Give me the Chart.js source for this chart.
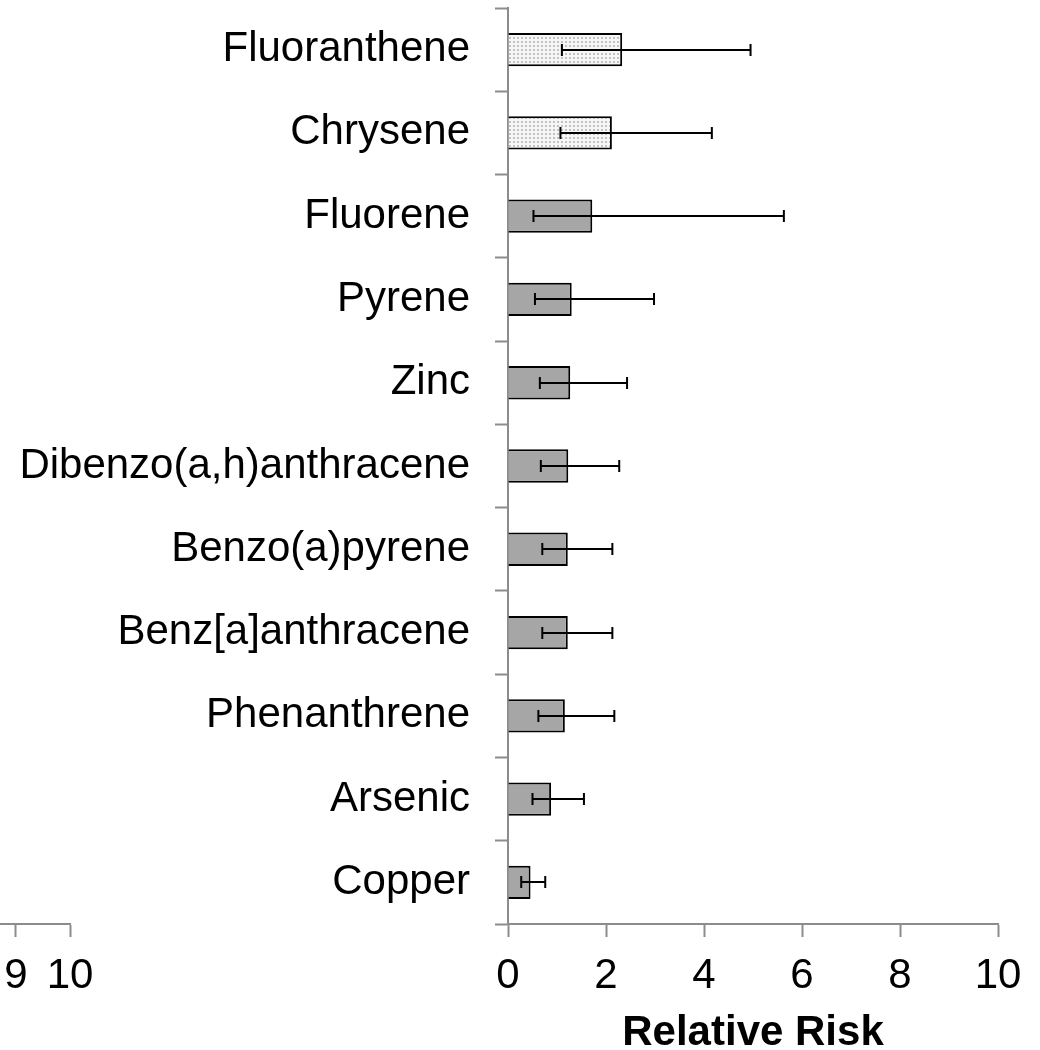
<!DOCTYPE html>
<html>
<head>
<meta charset="utf-8">
<title>Relative Risk</title>
<script src="https://cdn.jsdelivr.net/npm/chart.js@4.4.1/dist/chart.umd.min.js"></script>
<style>
  html, body { margin: 0; padding: 0; background: #fff; }
  #wrap { position: relative; width: 1040px; height: 1050px; }
  #main { position: absolute; left: 0; top: 0; }
  #side { position: absolute; left: 0; top: 880px; }
</style>
</head>
<body>
<div id="wrap">
  <canvas id="main" width="1040" height="1050"></canvas>
  <canvas id="side" width="130" height="170"></canvas>
</div>
<script>
// Contaminants, top to bottom
const categories = [
  'Fluoranthene', 'Chrysene', 'Fluorene', 'Pyrene', 'Zinc',
  'Dibenzo(a,h)anthracene', 'Benzo(a)pyrene', 'Benz[a]anthracene',
  'Phenanthrene', 'Arsenic', 'Copper'
];
// Relative risk estimates with lower / upper confidence limits
const relativeRisk = [2.33, 2.12, 1.72, 1.30, 1.27, 1.23, 1.22, 1.22, 1.16, 0.88, 0.46];
const lowerCI      = [1.10, 1.07, 0.52, 0.55, 0.65, 0.67, 0.70, 0.70, 0.62, 0.50, 0.27];
const upperCI      = [4.95, 4.16, 5.63, 2.98, 2.43, 2.27, 2.13, 2.13, 2.17, 1.55, 0.76];
// Bars drawn with the dotted fill
const dottedRows = ['Fluoranthene', 'Chrysene'];
// Axis ticks
const xTicks = [0, 2, 4, 6, 8, 10];
const sideTicks = [9, 10];

const FONT = '"Liberation Sans", Arial, sans-serif';
const AXIS_GRAY = '#8c8c8c';

// light dotted fill
function dotPattern() {
  const c = document.createElement('canvas');
  c.width = 4; c.height = 4;
  const g = c.getContext('2d');
  g.fillStyle = '#f6f6f6';
  g.fillRect(0, 0, 4, 4);
  g.fillStyle = '#c2c2c2';
  g.fillRect(1, 1, 2, 2);
  return g.createPattern(c, 'repeat');
}
const pattern = dotPattern();
const fills = categories.map(c => dottedRows.includes(c) ? pattern : '#a6a6a6');

// confidence interval whiskers
const errorBars = {
  id: 'errorBars',
  afterDatasetsDraw(chart) {
    const { ctx, scales: { x, y } } = chart;
    ctx.save();
    ctx.strokeStyle = '#000';
    ctx.lineWidth = 2;
    categories.forEach((c, i) => {
      const py = Math.round(y.getPixelForValue(i));
      const x1 = x.getPixelForValue(lowerCI[i]);
      const x2 = x.getPixelForValue(upperCI[i]);
      ctx.beginPath();
      ctx.moveTo(x1, py); ctx.lineTo(x2, py);
      ctx.moveTo(x1, py - 6); ctx.lineTo(x1, py + 6);
      ctx.moveTo(x2, py - 6); ctx.lineTo(x2, py + 6);
      ctx.stroke();
    });
    ctx.restore();
  }
};

function valueAxis(ticks, min, max) {
  return {
    type: 'linear',
    position: 'bottom',
    offset: false,
    min: min,
    max: max,
    afterBuildTicks(scale) { scale.ticks = ticks.map(v => ({ value: v })); },
    afterFit(scale) {
      scale.height = 126;
      scale.paddingLeft = 0;
      scale.paddingRight = 0;
    },
    border: { display: true, color: AXIS_GRAY, width: 2 },
    grid: { offset: false, drawOnChartArea: false, drawTicks: true, tickLength: 13, tickWidth: 2, tickColor: AXIS_GRAY },
    ticks: { color: '#000', font: { family: FONT, size: 42 }, padding: 14, maxRotation: 0, autoSkip: false }
  };
}

const xAxis = valueAxis(xTicks, 0, 10);
xAxis.title = {
  display: true,
  text: 'Relative Risk',
  color: '#000',
  font: { family: FONT, size: 42, weight: 'bold', lineHeight: 0.8 },
  padding: { top: 0, bottom: 0 }
};

new Chart(document.getElementById('main'), {
  type: 'bar',
  data: {
    labels: categories,
    datasets: [{
      data: relativeRisk,
      backgroundColor: fills,
      borderColor: '#000',
      borderWidth: 2,
      barPercentage: 0.4,
      categoryPercentage: 1
    }]
  },
  options: {
    indexAxis: 'y',
    responsive: false,
    animation: false,
    layout: { padding: { top: 8, right: 42, left: 0, bottom: 0 } },
    plugins: { legend: { display: false }, tooltip: { enabled: false } },
    scales: {
      x: xAxis,
      y: {
        type: 'category',
        position: 'left',
        z: 1,
        afterFit(scale) {
          scale.width = 508;
          scale.paddingTop = 0;
          scale.paddingBottom = 0;
        },
        border: { display: true, color: AXIS_GRAY, width: 2 },
        grid: { offset: true, drawOnChartArea: false, drawTicks: true, tickLength: 13, tickWidth: 2, tickColor: AXIS_GRAY },
        ticks: { color: '#000', font: { family: FONT, size: 42 }, padding: 25, autoSkip: false }
      }
    }
  },
  plugins: [errorBars]
});

// neighbouring panel's axis end
new Chart(document.getElementById('side'), {
  type: 'line',
  data: { datasets: [{ data: [] }] },
  options: {
    responsive: false,
    animation: false,
    layout: { padding: { top: 0, right: 60, left: 0, bottom: 0 } },
    plugins: { legend: { display: false }, tooltip: { enabled: false } },
    scales: {
      x: valueAxis(sideTicks, 10 - 70 / 54, 10),
      y: { display: false }
    }
  }
});
</script>
</body>
</html>
